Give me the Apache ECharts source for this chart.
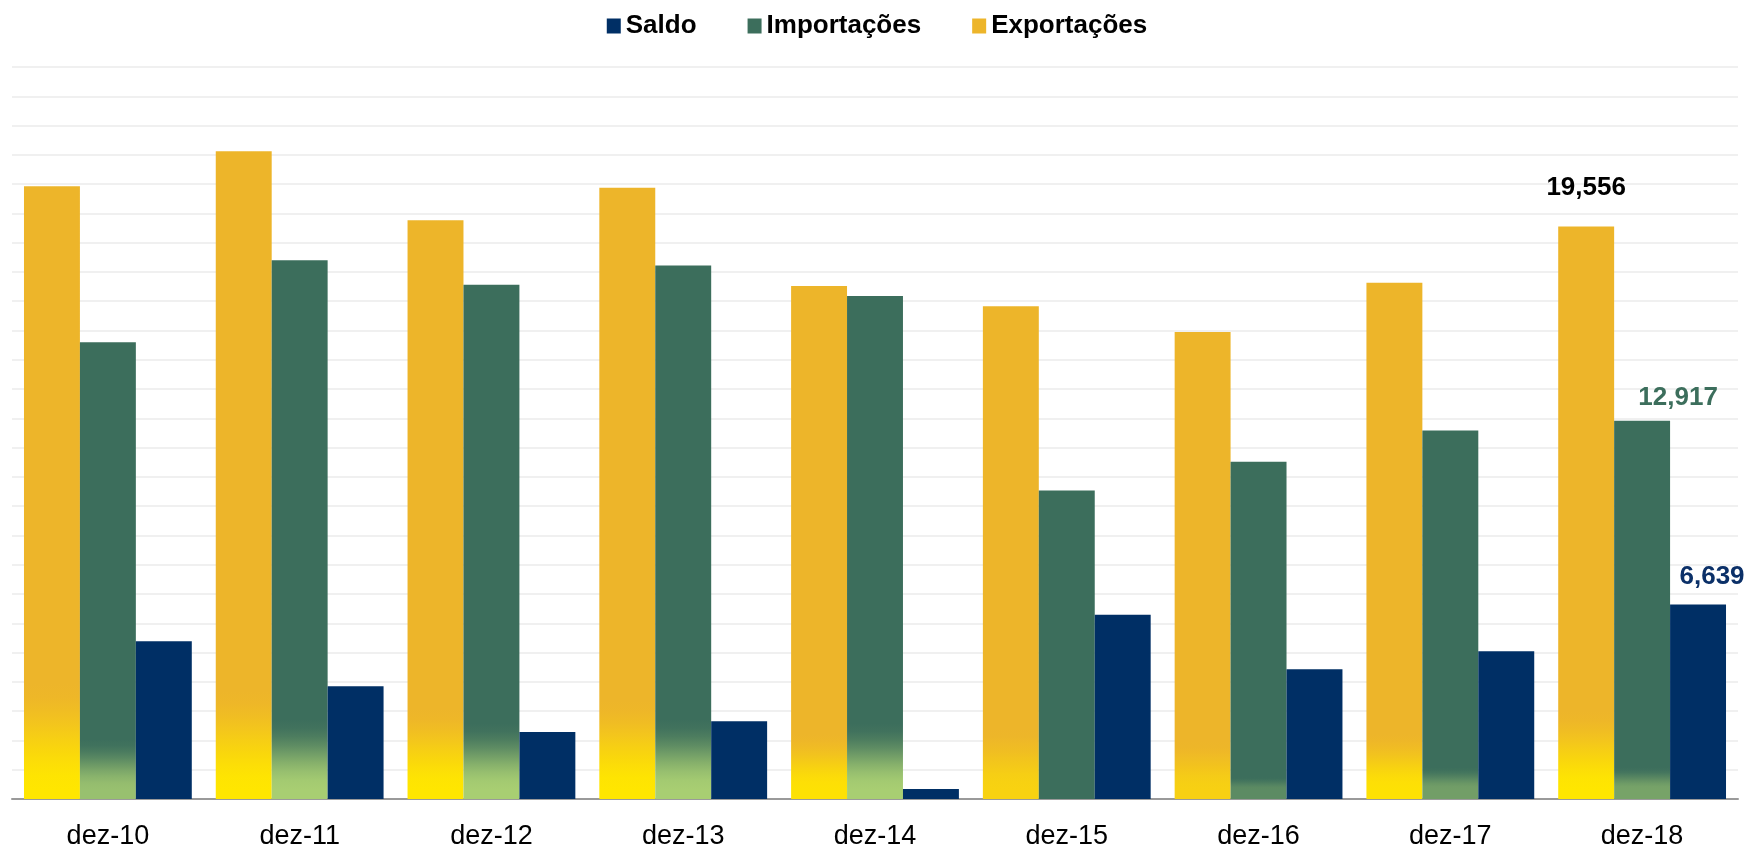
<!DOCTYPE html>
<html>
<head>
<meta charset="utf-8">
<title>Saldo, Importações e Exportações</title>
<script src="https://cdn.jsdelivr.net/npm/echarts@6/dist/echarts.min.js"></script>
<style>
    html, body { margin: 0; padding: 0; background: #fff; }
    #chart { width: 1754px; height: 850px; }
</style>
</head>
<body>
<div id="chart"></div>
<script>
// valores
const categories = ["dez-10", "dez-11", "dez-12", "dez-13", "dez-14", "dez-15", "dez-16", "dez-17", "dez-18"]
const exportacoes = [20930, 22125, 19770, 20880, 17520, 16830, 15950, 17630, 19556]
const importacoes = [15600, 18400, 17560, 18221, 17179, 10534, 11518, 12585, 12917]
const saldo = [5386, 3852, 2284, 2659, 341, 6296, 4432, 5045, 6639]

const yMax = 25000
const yStep = 1000

// brilho na base das barras (altura em px, intensidade)
const expGlowPx = [115, 108, 90, 98, 65, 70, 58, 65, 88]
const expGlowMix = [1, 1, 1, 1, 0.9, 0.6, 0.55, 0.9, 1]
const impGlowPx = [60, 80, 76, 80, 76, 0, 22, 32, 32]
const impGlowMix = [0.85, 1, 1, 1, 1, 0, 0.3, 0.5, 0.55]

const COR_EXP = "#EDB52A"
const COR_EXP_BASE = "#FFE600"
const COR_IMP = "#3C6E5C"
const COR_IMP_BASE = "#A8CE72"
const COR_SALDO = "#002F65"

const gridTop = 67
const gridBottom = 50
const plotH = 850 - gridTop - gridBottom

const bold = "'Liberation Sans', Arial, sans-serif"

const hex = (c) => [1, 3, 5].map(i => parseInt(c.slice(i, i + 2), 16))
const mix = (a, b, t) => {
    const A = hex(a), B = hex(b)
    return "rgb(" + A.map((v, i) => Math.round(v + (B[i] - v) * t)).join(",") + ")"
}

const gradient = (base, light, value, px, t) => {
    if (!px || !t) return base
    const h = value / yMax * plotH
    const s = Math.min(px / h, 1)
    const e = Math.min(10 / h, s)
    const stops = [{ offset: 0, color: base }]
    const n = 8
    for (let k = 0; k <= n; k++) {
        const f = k / n
        const ease = f * f * (3 - 2 * f)
        stops.push({ offset: (1 - s) + (s - e) * f, color: mix(base, light, t * ease) })
    }
    stops.push({ offset: 1, color: mix(base, light, t) })
    return new echarts.graphic.LinearGradient(0, 0, 0, 1, stops)
}

const fmt = (v) => v.toLocaleString("en-US")
const last = categories.length - 1

const lastLabel = (value, color, distance, offset) => ({
    show: true,
    position: "top",
    distance: distance,
    offset: offset,
    formatter: fmt(value),
    color: color,
    fontFamily: bold,
    fontWeight: "bold",
    fontSize: 26
})

const expData = exportacoes.map((v, i) => {
    const item = { value: v, itemStyle: { color: gradient(COR_EXP, COR_EXP_BASE, v, expGlowPx[i], expGlowMix[i]) } }
    if (i === last) item.label = lastLabel(v, "#000", 26, [0, 0])
    return item
})

const impData = importacoes.map((v, i) => {
    const item = { value: v, itemStyle: { color: gradient(COR_IMP, COR_IMP_BASE, v, impGlowPx[i], impGlowMix[i]) } }
    if (i === last) item.label = lastLabel(v, "#3C6E5C", 10, [36, 0])
    return item
})

const saldoData = saldo.map((v, i) => {
    const item = { value: v }
    if (i === last) item.label = lastLabel(v, "#0B3068", 15, [14, 0])
    return item
})

const chart = echarts.init(document.getElementById("chart"))

chart.setOption({
    animation: false,
    color: [COR_EXP, COR_IMP, COR_SALDO],
    legend: {
        top: 8,
        left: "center",
        icon: "rect",
        itemWidth: 14,
        itemHeight: 15,
        itemGap: 51,
        textStyle: {
            fontFamily: bold,
            fontWeight: "bold",
            fontSize: 26,
            color: "#000"
        },
        data: [
            { name: "Saldo", itemStyle: { color: COR_SALDO } },
            { name: "Importações", itemStyle: { color: COR_IMP } },
            { name: "Exportações", itemStyle: { color: COR_EXP } }
        ]
    },
    grid: {
        left: 12,
        right: 16,
        top: gridTop,
        bottom: gridBottom,
        containLabel: false
    },
    xAxis: {
        type: "category",
        data: categories,
        axisTick: { show: false },
        axisLine: { lineStyle: { color: "#9A9A9A", width: 2 } },
        axisLabel: {
            margin: 24,
            color: "#000",
            fontSize: 27,
            fontFamily: "'Liberation Sans', Arial, sans-serif"
        }
    },
    yAxis: {
        type: "value",
        min: 0,
        max: yMax,
        interval: yStep,
        axisLabel: { show: false },
        axisLine: { show: false },
        axisTick: { show: false },
        splitLine: { lineStyle: { color: "#F0F0F0", width: 2 } }
    },
    series: [
        {
            name: "Exportações",
            type: "bar",
            barGap: "0%",
            barCategoryGap: "12.5%",
            itemStyle: { color: COR_EXP },
            data: expData
        },
        {
            name: "Importações",
            type: "bar",
            barGap: "0%",
            barCategoryGap: "12.5%",
            itemStyle: { color: COR_IMP },
            data: impData
        },
        {
            name: "Saldo",
            type: "bar",
            barGap: "0%",
            barCategoryGap: "12.5%",
            itemStyle: { color: COR_SALDO },
            data: saldoData
        }
    ]
})

window.addEventListener("resize", () => chart.resize())
</script>
</body>
</html>
